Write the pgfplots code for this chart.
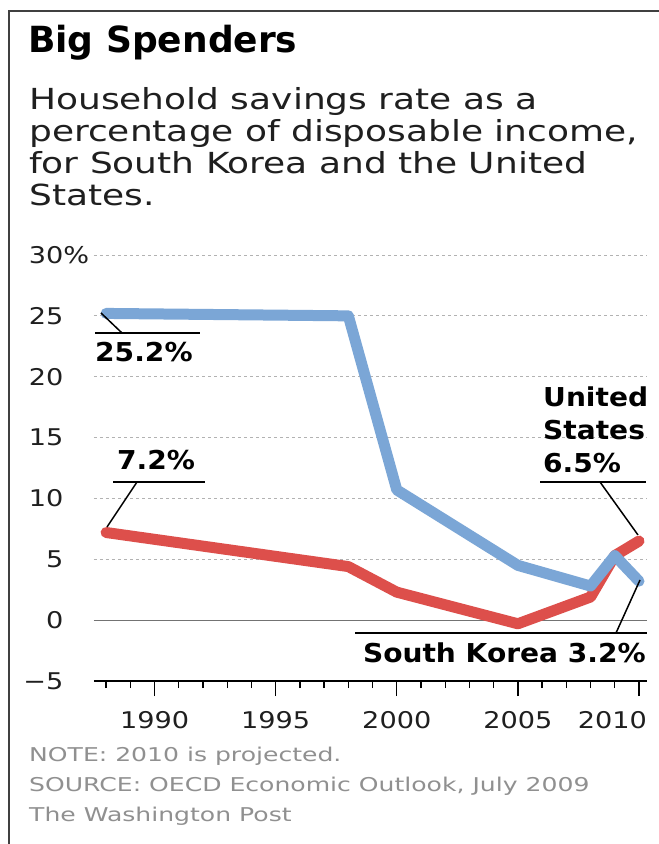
\documentclass[border=0pt]{standalone}
\usepackage{pgfplots}
\pgfplotsset{compat=1.18}
\usepackage{fontspec}
\setmainfont{DejaVu Sans}[FakeStretch=1.18]
\newfontfamily\subfont[FakeStretch=1.24]{DejaVu Sans}
\newfontfamily\notefont[FakeStretch=1.32]{DejaVu Sans}
\newfontfamily\titlebold[FakeStretch=1.0]{DejaVu Sans Bold}
\newfontfamily\annbold[FakeStretch=1.08]{DejaVu Sans Bold}
\definecolor{usred}{HTML}{DD4F4B}
\definecolor{korblue}{HTML}{7BA6D6}
\definecolor{notegray}{HTML}{909090}
\begin{document}
\begin{tikzpicture}
\begin{scope}[x=1pt,y=1pt]
\useasboundingbox (0,0) rectangle (659,844);
\fill[white] (0,0) rectangle (659,844);
\draw[line width=2.2pt, black!75] (9,0) -- (9,833) -- (659,833);
\node[anchor=base west, inner sep=0, font=\titlebold\fontsize{36}{40}\selectfont] at (28,791) {Big Spenders};
\node[anchor=north west, inner sep=0, align=left, text=black!88, font=\subfont\fontsize{29}{32}\selectfont] at (29,757)
  {Household savings rate as a\\percentage of disposable income,\\for South Korea and the United\\States.};
\end{scope}
\begin{axis}[
  at={(94pt,163pt)}, anchor=south west,
  width=553pt, height=426pt, scale only axis,
  xmin=1987.5, xmax=2010.33, ymin=-5, ymax=30,
  separate axis lines,
  axis x line*=bottom, axis y line*=left,
  y axis line style={draw=none},
  x axis line style={black, line width=1.3pt, -},
  xtick={1990,1995,2000,2005,2010},
  xticklabels={1990,1995,2000,2005,\hspace*{16pt}\makebox[0pt][r]{2010}},
  minor xtick={1988,...,2010},
  tick align=outside,
  major tick length=15pt, minor tick length=7pt,
  xtick style={black, line width=1.3pt},
  minor tick style={black, line width=1.3pt},
  ytick={-5,0,5,10,15,20,25,30},
  yticklabels={−5,0,5,10,15,20,25,30\rlap{\%}},
  ytick style={draw=none},
  ymajorgrids,
  grid style={dashed, black!30, line width=0.8pt},
  extra y ticks={0}, extra y tick labels={},
  extra y tick style={grid style={solid, black!55, line width=1.2pt}},
  yticklabel style={anchor=east, xshift=-12pt, font=\fontsize{23}{26}\selectfont, text=black!88},
  xticklabel style={anchor=north, yshift=-12pt, font=\fontsize{23}{26}\selectfont, text=black!88},
  clip=false,
]
\addplot[usred, line width=11pt, line join=round, line cap=round] coordinates {
 (1988,7.2) (1998,4.4) (2000,2.3) (2005,-0.3) (2008,1.9) (2009,5.3) (2010,6.5)};
\addplot[korblue, line width=11pt, line join=round, line cap=round] coordinates {
 (1988,25.2) (1998,25.0) (2000,10.7) (2005,4.5) (2008,2.8) (2009,5.3) (2010,3.2)};
\end{axis}
\begin{scope}[x=1pt,y=1pt]
\begin{scope}[line width=1.5pt, black]
\draw (95,511) -- (200,511);
\draw (101,531) -- (122,511);
\draw (113,362) -- (205,362);
\draw (107,317) -- (137,362);
\draw (540,362) -- (646,362);
\draw (600,362) -- (638,309);
\draw (355,211) -- (647,211);
\draw (616,211) -- (640,264);
\end{scope}
\node[anchor=west, inner sep=0, font=\annbold\fontsize{26}{30}\selectfont] at (95,492) {25.2\%};
\node[anchor=base west, inner sep=0, font=\annbold\fontsize{26}{30}\selectfont] at (117,374) {7.2\%};
\node[anchor=north west, inner sep=0, align=left, font=\annbold\fontsize{26}{33}\selectfont] at (543,457)
  {United\\States\\6.5\%};
\node[anchor=base east, inner sep=0, font=\annbold\fontsize{26}{30}\selectfont] at (646,181) {South Korea 3.2\%};
\node[anchor=north west, inner sep=0, align=left, text=notegray, font=\notefont\fontsize{19}{30}\selectfont] at (29,97)
  {NOTE: 2010 is projected.\\SOURCE: OECD Economic Outlook, July 2009\\The Washington Post};
\end{scope}
\end{tikzpicture}
\end{document}
